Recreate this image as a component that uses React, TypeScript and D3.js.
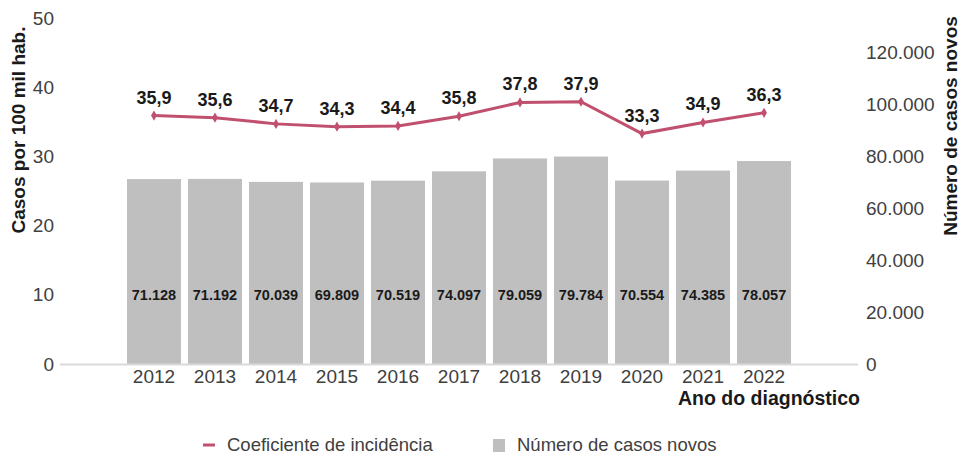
import React from "react";
import * as d3 from "d3";

const years = ["2012","2013","2014","2015","2016","2017","2018","2019","2020","2021","2022"];
const rates = [35.9,35.6,34.7,34.3,34.4,35.8,37.8,37.9,33.3,34.9,36.3];
const cases = [71128,71192,70039,69809,70519,74097,79059,79784,70554,74385,78057];
const leftTicks = [0,10,20,30,40,50];
const rightTicks = [0,20000,40000,60000,80000,100000,120000];

const W = 960, H = 455;
const FONT = "'Liberation Sans', Arial, sans-serif";
const LINE = "#c0506e";
const BAR = "#bfbfbf";

const fmtInt = (v: number) => d3.format(",")(v).replace(/,/g, ".");
const fmtDec = (v: number) => v.toFixed(1).replace(".", ",");

export default function App() {
  const domainX = ["_a", ...years, "_b"];
  const x = d3.scaleBand<string>().domain(domainX).range([62.5, 855.5]).paddingInner(0.115).paddingOuter(0.057);
  const yL = d3.scaleLinear().domain([0, 50]).range([364, 18]);
  const yR = d3.scaleLinear().domain([0, 120000]).range([364, 52]);
  const cx = (y: string) => (x(y) as number) + x.bandwidth() / 2;
  const line = d3.line<number>().x((_, i) => cx(years[i])).y(d => yL(d));
  const diamond = d3.symbol().type(d3.symbolDiamond).size(30)();

  return (
    <svg width={W} height={H} style={{ position: "absolute", left: 0, top: 0, fontFamily: FONT }}>
      <rect width={W} height={H} fill="#fff" />
      {years.map((yr, i) => (
        <rect key={yr} x={x(yr)} y={yR(cases[i])} width={x.bandwidth()} height={364 - yR(cases[i])} fill={BAR} />
      ))}
      <line x1={60} x2={858} y1={364.5} y2={364.5} stroke="#d9d9d9" strokeWidth={2} />
      {years.map((yr, i) => (
        <text key={"cl" + yr} x={cx(yr)} y={yL(10)} dy="0.35em" textAnchor="middle" fontSize={14.5} fontWeight="bold" fill="#1a1a1a">{fmtInt(cases[i])}</text>
      ))}
      <path d={line(rates) || ""} fill="none" stroke={LINE} strokeWidth={3} />
      {years.map((yr, i) => (
        <path key={"m" + yr} d={diamond || ""} transform={`translate(${cx(yr)},${yL(rates[i])})`} fill={LINE} />
      ))}
      {years.map((yr, i) => (
        <text key={"rl" + yr} x={cx(yr)} y={yL(rates[i]) - 12} textAnchor="middle" fontSize={18} fontWeight="bold" fill="#1a1a1a">{fmtDec(rates[i])}</text>
      ))}
      {leftTicks.map(t => (
        <text key={"lt" + t} x={54} y={yL(t)} dy="0.35em" textAnchor="end" fontSize={19} fill="#404040">{t}</text>
      ))}
      {rightTicks.map(t => (
        <text key={"rt" + t} x={866} y={yR(t)} dy="0.35em" textAnchor="start" fontSize={19} fill="#404040">{t === 0 ? "0" : fmtInt(t)}</text>
      ))}
      {years.map(yr => (
        <text key={"xt" + yr} x={cx(yr)} y={383} textAnchor="middle" fontSize={19} fill="#404040">{yr}</text>
      ))}
      <text x={860} y={398} dy="0.35em" textAnchor="end" fontSize={19.5} fontWeight="bold" fill="#1a1a1a">Ano do diagnóstico</text>
      <text transform="translate(18,130) rotate(-90)" dy="0.35em" textAnchor="middle" fontSize={19} fontWeight="bold" fill="#1a1a1a">Casos por 100 mil hab.</text>
      <text transform="translate(950,126) rotate(-90)" dy="0.35em" textAnchor="middle" fontSize={19} fontWeight="bold" fill="#1a1a1a">Número de casos novos</text>
      <line x1={203} x2={215} y1={445} y2={445} stroke={LINE} strokeWidth={3} />
      <text x={227} y={444.5} dy="0.35em" fontSize={18.5} fill="#404040">Coeficiente de incidência</text>
      <rect x={493} y={439} width={12} height={13} fill={BAR} />
      <text x={517} y={444.5} dy="0.35em" fontSize={18.5} fill="#404040">Número de casos novos</text>
    </svg>
  );
}
